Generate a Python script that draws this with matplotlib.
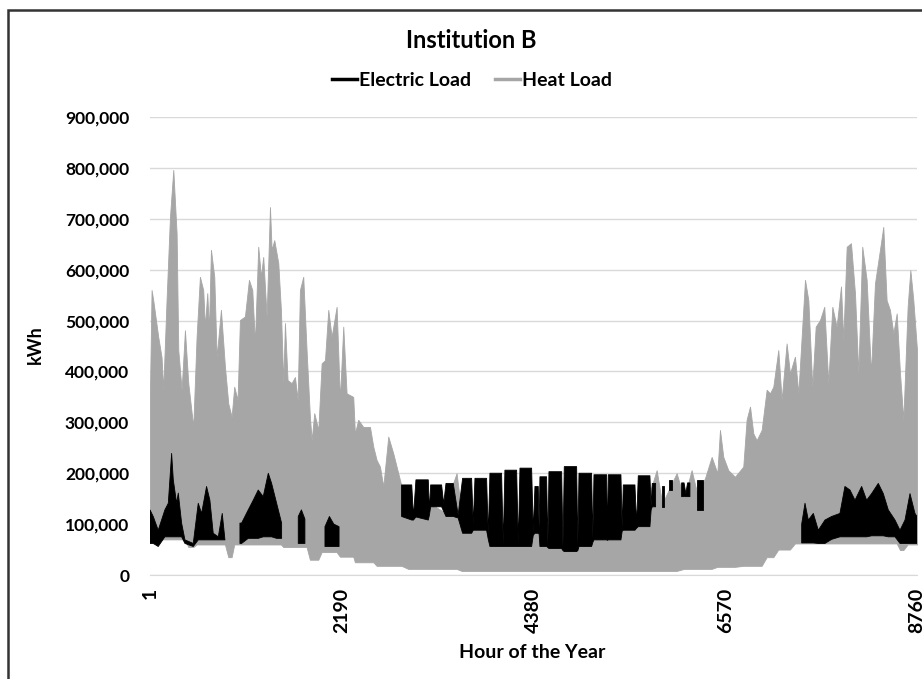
import numpy as np
import matplotlib
matplotlib.use("Agg")
import matplotlib.pyplot as plt
from matplotlib.lines import Line2D
from matplotlib.patches import Rectangle
from matplotlib.ticker import FuncFormatter

plt.rcParams['font.family'] = ['Lato', 'DejaVu Sans']
plt.rcParams['font.weight'] = 'bold'

# heat load: hour, upper edge and lower edge (kWh)
heat_h = [1, 19, 38, 95, 133, 152, 190, 229, 267, 305, 324, 362, 400, 438, 495,
          533, 571, 609, 628, 655, 674, 697, 735, 762, 811, 857, 895, 933, 963,
          1001, 1028, 1085, 1131, 1169, 1199, 1237, 1268, 1294, 1333, 1371, 1390,
          1420, 1466, 1496, 1523, 1542, 1572, 1618, 1656, 1687, 1713, 1751, 1789,
          1827, 1847, 1877, 1923, 1961, 1999, 2037, 2075, 2132, 2170, 2208, 2246,
          2322, 2341, 2379, 2436, 2513, 2551, 2589, 2627, 2665, 2722, 2779, 2836,
          2874, 2950, 3050, 3200, 3350, 3502, 3560, 3700, 3900, 4100, 4300, 4500,
          4700, 4900, 5100, 5300, 5500, 5650, 5787, 5850, 6015, 6100, 6186, 6250,
          6339, 6415, 6480, 6510, 6548, 6605, 6681, 6776, 6814, 6853, 6891, 6929,
          6986, 7043, 7081, 7119, 7176, 7214, 7271, 7309, 7366, 7405, 7481, 7519,
          7564, 7603, 7652, 7701, 7747, 7793, 7842, 7892, 7918, 7957, 8006, 8052,
          8090, 8135, 8185, 8234, 8280, 8337, 8375, 8413, 8451, 8490, 8528, 8566,
          8604, 8653, 8684, 8718, 8760]
heat_top = [364, 560, 540, 468, 428, 364, 540, 704, 796, 671, 442, 364, 481, 377, 291,
            468, 586, 560, 488, 554, 481, 639, 586, 428, 521, 409, 337, 311, 370,
            344, 501, 508, 580, 560, 456, 645, 586, 625, 508, 723, 639,
            658, 613, 521, 377, 495, 383, 377, 389, 344, 560, 586, 442,
            311, 265, 318, 285, 416, 422, 521, 468, 527, 344, 488, 357,
            350, 278, 305, 291, 291, 252, 226, 213, 174, 272, 239, 200,
            174, 130, 120, 140, 125, 200, 120, 110, 105, 100, 105, 100,
            95, 100, 110, 115, 125, 130, 206, 140, 200, 150, 206, 160,
            190, 232, 200, 285, 232, 206, 193, 213, 305, 331, 278, 265,
            285, 364, 357, 370, 442, 344, 455, 396, 429, 357, 580, 540,
            370, 488, 501, 527, 377, 527, 488, 567, 462, 645, 652, 553,
            396, 645, 580, 396, 573, 639, 684, 540, 521, 475, 514, 396,
            305, 527, 599, 540, 442]
heat_low = [70, 70, 70, 70, 70, 70, 70, 70, 70, 70, 70, 70, 70, 55, 55,
            60, 60, 60, 60, 60, 60, 60, 60, 60, 60, 60, 35, 35, 60,
            60, 60, 60, 60, 60, 60, 60, 60, 60, 60, 60, 60,
            60, 60, 60, 55, 55, 55, 55, 55, 55, 55, 55, 55,
            30, 30, 30, 30, 45, 45, 45, 45, 45, 36, 36, 36,
            36, 25, 25, 25, 25, 25, 18, 18, 18, 18, 18, 18,
            18, 12, 12, 12, 12, 12, 8, 8, 8, 8, 8, 8,
            8, 8, 8, 8, 8, 8, 8, 8, 8, 12, 12, 12,
            12, 12, 16, 16, 16, 16, 16, 18, 18, 18, 18, 18,
            18, 35, 35, 35, 50, 50, 50, 50, 62, 62, 62, 62,
            62, 62, 62, 62, 62, 62, 62, 62, 62, 62, 62, 62,
            62, 62, 62, 62, 62, 62, 62, 62, 62, 62, 62, 49,
            49, 60, 60, 60, 60]

nan = np.nan
# electric load, upper and lower edge (kWh); nan where the line is hidden
elec_h = [1, 38, 95, 171, 210, 248, 267, 305, 324, 362, 400, 495, 552, 590, 647,
          685, 723, 781, 826, 857, 940, 1028, 1047, 1123, 1180, 1237, 1294, 1352,
          1390, 1447, 1504, 1600, 1694, 1730, 1770, 1880, 1999, 2050, 2100, 2160,
          2500, 2874, 2990, 3010, 3038, 3179, 3192, 3206, 3331, 3355, 3381, 3464,
          3520, 3571, 3674, 3693, 3712, 3845, 3864, 3883, 4016, 4035, 4054, 4188,
          4207, 4226, 4359, 4378, 4397, 4435, 4445, 4454, 4530, 4545, 4557, 4702,
          4717, 4732, 4873, 4887, 4900, 5044, 5058, 5071, 5216, 5225, 5235, 5379,
          5393, 5406, 5539, 5558, 5577, 5710, 5724, 5737, 5775, 5800, 5844, 5874,
          5900, 5931, 5965, 6000, 6072, 6100, 6120, 6140, 6167, 6200, 6243, 6280,
          6320, 7000, 7443, 7481, 7519, 7576, 7633, 7709, 7785, 7880, 7937, 7995,
          8052, 8128, 8185, 8242, 8318, 8375, 8432, 8509, 8566, 8623, 8680, 8737,
          8760]
elec_top = [128, 115, 88, 128, 141, 239, 187, 141, 161, 102, 69, 62, 141, 121, 174,
            147, 82, 75, 121, 69, nan, 102, 102, 128, 147, 167, 154, 200,
            180, 141, 102, nan, 115, 128, 110, nan, 95, 115, 100, 95,
            nan, 177, 177, 115, 187, 187, 125, 177, 177, 140, 180, 180,
            118, 190, 190, 100, 190, 190, 80, 200, 200, 62, 206, 206,
            62, 210, 210, 85, 174, 174, 92, 193, 193, 60, 203, 203,
            55, 213, 213, 58, 200, 200, 72, 197, 197, 74, 197, 197,
            92, 177, 177, 98, 195, 195, 135, 180, 180, nan, 174, 174,
            nan, 187, 187, nan, 181, 181, 160, 181, 181, nan, 187, 187,
            187, nan, 100, 141, 108, 121, 88, 108, 115, 121, 174, 167,
            147, 174, 147, 160, 180, 160, 128, 108, 88, 108, 160, 121,
            115]
elec_low = [62, 62, 56, 75, 75, 75, 75, 75, 75, 75, 62, 56, 69, 69, 69,
            69, 69, 69, 69, 69, nan, 62, 62, 72, 72, 72, 75, 75,
            75, 72, 72, nan, 62, 62, 62, nan, 56, 56, 56, 56,
            nan, 115, 108, 108, 114, 108, 118, 134, 134, 125, 115, 115,
            112, 82, 82, 88, 88, 88, 70, 56, 56, 56, 56, 56,
            56, 56, 56, 78, 82, 82, 80, 56, 56, 54, 52, 52,
            48, 46, 46, 48, 56, 56, 64, 69, 69, 68, 69, 69,
            86, 88, 88, 92, 95, 95, 128, 134, 134, nan, 134, 134,
            nan, 167, 167, nan, 154, 154, 154, 154, 154, nan, 128, 128,
            128, nan, 63, 63, 63, 63, 62, 62, 70, 75, 75, 75,
            75, 75, 75, 77, 77, 77, 75, 75, 62, 62, 62, 62,
            62]

x_ticks = [1, 2190, 4380, 6570, 8760]
y_ticks = [0, 100000, 200000, 300000, 400000, 500000, 600000, 700000, 800000, 900000]

heat_color = '#a6a6a6'
elec_color = '#000000'

fig = plt.figure(figsize=(9.22, 6.79), dpi=100)
ax = fig.add_axes([150 / 922, 1 - 575 / 679, 767 / 922, 458 / 679])

hh = np.array(heat_h)
ax.fill_between(hh, np.array(heat_low) * 1000, np.array(heat_top) * 1000,
                color=heat_color, lw=0.6, zorder=2)
eh = np.array(elec_h)
ax.fill_between(eh, np.array(elec_low) * 1000, np.array(elec_top) * 1000,
                color=elec_color, lw=0.6, zorder=3)

ax.set_xlim(1, 8760)
ax.set_ylim(0, 900000)
ax.set_xticks(x_ticks)
ax.set_xticklabels([str(t) for t in x_ticks], rotation=90)
ax.set_yticks(y_ticks)
ax.yaxis.set_major_formatter(FuncFormatter(lambda v, p: f"{int(v):,}"))
ax.tick_params(axis='both', length=0)
ax.tick_params(axis='y', pad=15, labelsize=12.5)
ax.tick_params(axis='x', pad=9, labelsize=14)
ax.grid(axis='y', color='#d9d9d9', lw=1)
ax.set_axisbelow(True)
for s in ['left', 'right', 'top']:
    ax.spines[s].set_visible(False)
ax.spines['bottom'].set_color('#d9d9d9')

fig.text(471 / 922, 1 - 40 / 679, 'Institution B', ha='center', va='center',
         fontsize=17, fontweight='bold')
fig.text(532 / 922, 1 - 652 / 679, 'Hour of the Year', ha='center', va='center',
         fontsize=14, fontweight='bold')
fig.text(35 / 922, 1 - 345 / 679, 'kWh', ha='center', va='center', rotation=90,
         fontsize=13, fontweight='bold')

handles = [Line2D([], [], color=elec_color, lw=2.5),
           Line2D([], [], color=heat_color, lw=2.5)]
fig.legend(handles, ['Electric Load', 'Heat Load'], loc='center',
           bbox_to_anchor=(472 / 922, 1 - 80 / 679), ncol=2, frameon=False,
           handlelength=1.3, handletextpad=0.1, columnspacing=1.2,
           prop={'size': 14, 'weight': 'bold'})

fig.patches.append(Rectangle((8 / 922, -0.1), 1.2, 1.1 - 10 / 679,
                             transform=fig.transFigure, fill=False,
                             edgecolor='#333333', lw=1.8))

fig.savefig('out.png', dpi=100)
